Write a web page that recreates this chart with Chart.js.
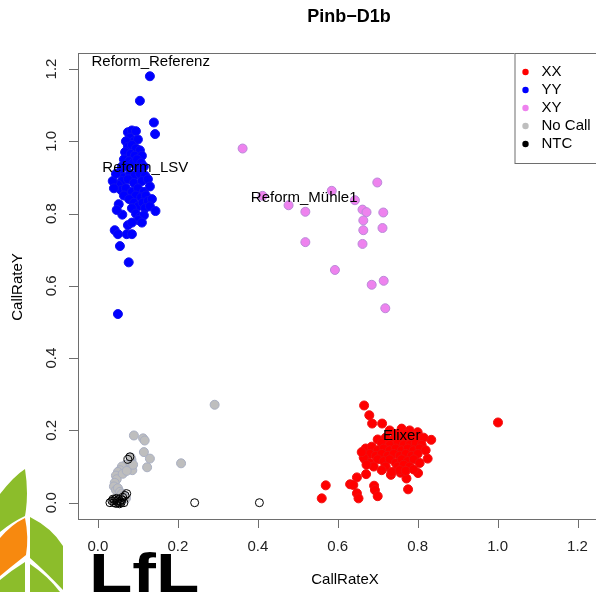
<!DOCTYPE html>
<html lang="de">
<head>
<meta charset="UTF-8">
<script src="https://cdn.jsdelivr.net/npm/chart.js@4.4.0/dist/chart.umd.min.js"></script>
<style>
  html, body { margin: 0; padding: 0; background: #fff; overflow: hidden; }
  .wrap { position: relative; width: 604px; height: 592px; }
  .leaves { position: absolute; left: 0; top: 462px; }
  .lfl {
    position: absolute; left: 89px; top: 546px;
    font: bold 55px 'Liberation Sans', Arial, sans-serif;
    line-height: 55px; color: #000;
    transform: scaleX(1.29); transform-origin: left top;
    font-variant-ligatures: none;
  }
  .chart-box { position: absolute; left: 0; top: 0; width: 604px; height: 592px; }
</style>
</head>
<body>
<div class="wrap">
  <svg class="leaves" width="70" height="130">
    <path d="M0,32 Q14,14 25,7 Q29,32 25,54 Q12,60 0,70 Z" fill="#8cbd2b"/>
    <path d="M0,76 Q12,62 25,56 Q29,75 26,93 Q12,104 0,114 Z" fill="#f7890f"/>
    <path d="M30,55 Q52,66 63,84 L63,128 Q46,110 30,96 Z" fill="#8cbd2b"/>
    <path d="M30,102 Q48,114 60,130 L30,130 Z" fill="#8cbd2b"/>
    <path d="M0,118 Q12,108 25,100 L25,130 L0,130 Z" fill="#8cbd2b"/>
  </svg>
  <div class="lfl">LfL</div>
  <div class="chart-box"><canvas id="plot"></canvas></div>
</div>
<script>
// groups
const seriesNames = ['XX', 'YY', 'XY', 'No Call', 'NTC'];
const seriesColors = ['#FF0000', '#0000FF', '#EE82EE', '#BEBEBE', '#000000'];

// XX (red)
const xxX = [0.666,0.679,0.686,0.711,1.001,0.834,0.825,0.801,0.776,0.570,0.560,0.631,0.648,0.671,0.648,0.652,0.691,0.693,0.700,0.772,0.733,0.757,0.639,
  0.730,0.760,0.780,0.800,0.745,0.770,0.790,
  0.700,0.720,0.740,0.755,0.770,0.785,0.800,0.815,0.710,0.730,0.750,0.765,0.780,0.795,0.810,
  0.670,0.685,0.700,0.715,0.730,0.745,0.760,0.775,0.790,0.805,0.820,0.680,0.695,0.710,0.725,0.740,0.755,0.770,0.785,0.800,
  0.668,0.680,0.700,0.715,0.730,0.745,0.760,0.775,0.790,0.805,0.690,0.720,0.750,0.765,0.780,
  0.710,0.735,0.755,0.770,0.790,
  0.665,0.660,0.672];
const xxY = [0.269,0.242,0.219,0.219,0.222,0.174,0.122,0.082,0.037,0.048,0.012,0.051,0.070,0.079,0.026,0.012,0.047,0.035,0.018,0.067,0.077,0.083,0.049,
  0.200,0.205,0.200,0.195,0.190,0.190,0.185,
  0.175,0.180,0.175,0.180,0.175,0.170,0.175,0.180,0.165,0.160,0.165,0.160,0.160,0.165,0.160,
  0.150,0.155,0.145,0.150,0.145,0.150,0.145,0.150,0.145,0.150,0.145,0.135,0.130,0.135,0.130,0.135,0.130,0.135,0.130,0.135,
  0.120,0.110,0.120,0.115,0.120,0.110,0.120,0.115,0.120,0.110,0.100,0.100,0.100,0.105,0.100,
  0.090,0.085,0.090,0.088,0.092,
  0.125,0.140,0.105];

// YY (blue)
const yyX = [0.130,0.105,0.140,0.143,
  0.075,0.085,0.095,0.080,0.090,0.100,0.070,
  0.075,0.085,0.095,0.105,0.068,0.082,0.092,0.110,
  0.065,0.078,0.088,0.098,0.108,0.060,0.072,0.100,0.115,
  0.055,0.065,0.080,0.092,0.105,0.118,0.060,0.075,0.090,0.110,0.125,
  0.050,0.058,0.070,0.085,0.100,0.115,0.130,0.095,0.108,0.120,0.065,
  0.078,0.090,0.100,0.112,0.125,0.135,0.118,0.130,0.085,
  0.052,0.061,0.047,0.095,0.105,0.115,0.144,0.101,0.110,0.075,0.085,
  0.042,0.050,0.072,0.085,0.055,0.077,0.050,
  0.037,0.040,0.045];
const yyY = [1.180,1.112,1.052,1.020,
  1.025,1.030,1.028,1.010,1.000,1.005,1.000,
  0.985,0.990,0.980,0.975,0.970,0.965,0.960,0.960,
  0.950,0.945,0.940,0.950,0.940,0.930,0.930,0.925,0.930,
  0.915,0.900,0.910,0.905,0.910,0.905,0.890,0.895,0.885,0.890,0.895,
  0.880,0.865,0.870,0.860,0.870,0.860,0.875,0.850,0.845,0.850,0.850,
  0.840,0.830,0.820,0.830,0.835,0.840,0.815,0.820,0.815,
  0.826,0.797,0.810,0.800,0.790,0.795,0.807,0.782,0.775,0.768,0.775,
  0.754,0.743,0.743,0.743,0.710,0.665,0.522,
  0.890,0.870,0.910];

// XY (violet)
const xyX = [0.362,0.699,0.585,0.412,0.477,0.643,0.662,0.672,0.714,0.519,0.664,0.664,0.712,0.519,0.662,0.593,0.685,0.715,0.719];
const xyY = [0.980,0.886,0.863,0.849,0.823,0.837,0.811,0.804,0.803,0.805,0.781,0.754,0.760,0.721,0.716,0.644,0.603,0.614,0.538];

// No Call (grey)
const ncX = [0.292,0.208,0.090,0.113,0.117,0.115,0.130,0.123,0.084,0.086,0.080,0.075,0.070,0.065,0.060,0.055,0.050,0.045,0.047,0.042,0.040,0.045,0.050,0.055,0.060,0.065,0.070,0.062,0.072,0.082,0.088];
const ncY = [0.271,0.109,0.186,0.178,0.172,0.140,0.122,0.098,0.118,0.090,0.110,0.100,0.105,0.095,0.100,0.090,0.085,0.075,0.065,0.055,0.045,0.035,0.040,0.030,0.025,0.020,0.012,0.080,0.088,0.125,0.105];

// NTC (black, open)
const ntcX = [0.030,0.035,0.040,0.042,0.045,0.048,0.050,0.052,0.055,0.058,0.060,0.062,0.065,0.068,0.072,0.038,0.046,0.054,0.080,0.075,0.242,0.404];
const ntcY = [0.000,0.005,0.000,0.008,-0.002,0.005,0.000,0.010,0.003,0.000,0.008,0.015,0.000,0.020,0.025,0.010,0.012,-0.003,0.127,0.120,0.000,0.000];

// text labels in the plot
const labelNames = ['Reform_Referenz', 'Reform_LSV', 'Reform_Mühle1', 'Elixer'];
const labelX = [0.132, 0.1185, 0.516, 0.760];
const labelY = [1.219, 0.926, 0.8425, 0.1846];

// axis ticks
const xTicks = [0, 0.2, 0.4, 0.6, 0.8, 1.0, 1.2];
const yTicks = [0, 0.2, 0.4, 0.6, 0.8, 1.0, 1.2];

function pts(xs, ys) { return xs.map((v, i) => ({ x: v, y: ys[i] })); }

const FONT = '"Liberation Sans", Arial, sans-serif';

const rPlot = {
  id: 'rPlot',
  afterDatasetsDraw(chart) {
    const { ctx, chartArea: a, scales: { x, y } } = chart;
    ctx.save();

    // point labels
    ctx.fillStyle = '#000';
    ctx.font = '15px ' + FONT;
    ctx.textAlign = 'center';
    ctx.textBaseline = 'middle';
    labelNames.forEach((t, i) => {
      ctx.fillText(t, x.getPixelForValue(labelX[i]), y.getPixelForValue(labelY[i]));
    });

    // box
    ctx.strokeStyle = '#6e6e6e';
    ctx.lineWidth = 1;
    ctx.strokeRect(a.left + 0.5, a.top + 0.5, a.right - a.left, a.bottom - a.top);

    // x axis
    ctx.fillStyle = '#222';
    ctx.font = '15px ' + FONT;
    ctx.beginPath();
    xTicks.forEach(v => {
      const px = Math.round(x.getPixelForValue(v)) + 0.5;
      ctx.moveTo(px, a.bottom); ctx.lineTo(px, a.bottom + 9);
    });
    ctx.stroke();
    ctx.textAlign = 'center';
    ctx.textBaseline = 'middle';
    xTicks.forEach(v => ctx.fillText(v.toFixed(1), x.getPixelForValue(v), a.bottom + 28));

    // y axis
    ctx.beginPath();
    yTicks.forEach(v => {
      const py = Math.round(y.getPixelForValue(v)) + 0.5;
      ctx.moveTo(a.left, py); ctx.lineTo(a.left - 9, py);
    });
    ctx.stroke();
    yTicks.forEach(v => {
      ctx.save();
      ctx.translate(a.left - 26, y.getPixelForValue(v));
      ctx.rotate(-Math.PI / 2);
      ctx.fillText(v.toFixed(1), 0, 0);
      ctx.restore();
    });

    // axis titles and main title
    ctx.fillStyle = '#000';
    ctx.fillText('CallRateX', 345, 580);
    ctx.save();
    ctx.translate(18, 287);
    ctx.rotate(-Math.PI / 2);
    ctx.fillText('CallRateY', 0, 0);
    ctx.restore();
    ctx.font = 'bold 18px ' + FONT;
    ctx.fillText('Pinb\u2212D1b', 349, 17);

    // legend
    const lx = a.right - 84, ly = a.top;
    ctx.fillStyle = '#fff';
    ctx.fillRect(lx, ly, 90, 110);
    ctx.strokeStyle = '#6e6e6e';
    ctx.strokeRect(lx + 0.5, ly + 0.5, 90, 110);
    ctx.font = '15px ' + FONT;
    ctx.textAlign = 'left';
    seriesNames.forEach((n, i) => {
      const yy = ly + 19 + i * 18;
      ctx.fillStyle = seriesColors[i];
      ctx.beginPath();
      ctx.arc(lx + 11, yy, 3.2, 0, Math.PI * 2);
      ctx.fill();
      ctx.fillStyle = '#000';
      ctx.fillText(n, lx + 27, yy);
    });

    ctx.restore();
  }
};

new Chart(document.getElementById('plot'), {
  type: 'scatter',
  data: {
    datasets: [
      { label: 'NTC', data: pts(ntcX, ntcY), order: 0, pointRadius: 4, borderWidth: 1,
        backgroundColor: 'rgba(255,255,255,0)', borderColor: seriesColors[4] },
      { label: 'No Call', data: pts(ncX, ncY), order: 1, pointRadius: 4.5, borderWidth: 1,
        backgroundColor: seriesColors[3], borderColor: '#a9afc2' },
      { label: 'XX', data: pts(xxX, xxY), order: 2, pointRadius: 4.5, borderWidth: 1,
        backgroundColor: seriesColors[0], borderColor: '#f01010' },
      { label: 'XY', data: pts(xyX, xyY), order: 3, pointRadius: 4.5, borderWidth: 1,
        backgroundColor: seriesColors[2], borderColor: '#b98ad8' },
      { label: 'YY', data: pts(yyX, yyY), order: 4, pointRadius: 4.5, borderWidth: 1,
        backgroundColor: seriesColors[1], borderColor: '#1010f0' }
    ]
  },
  options: {
    responsive: true,
    maintainAspectRatio: false,
    animation: false,
    layout: { padding: { left: 78, top: 53, right: 4, bottom: 73 } },
    plugins: { legend: { display: false }, tooltip: { enabled: false } },
    scales: {
      x: { type: 'linear', display: false, min: -0.0499, max: 1.2525 },
      y: { type: 'linear', display: false, min: -0.0451, max: 1.2443 }
    }
  },
  plugins: [rPlot]
});
</script>
</body>
</html>
